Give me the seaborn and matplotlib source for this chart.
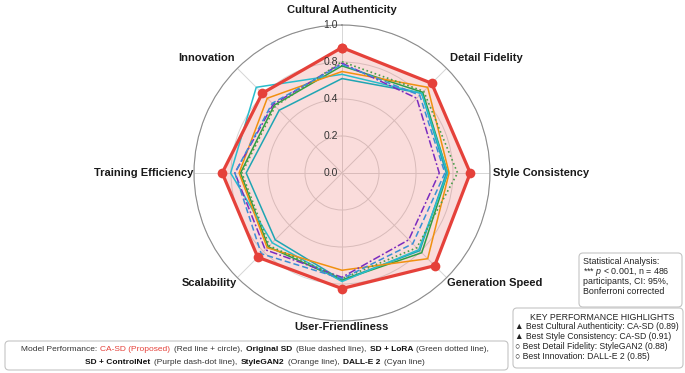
import numpy as np
import pandas as pd
import seaborn as sns
import matplotlib.pyplot as plt
from matplotlib.patches import FancyBboxPatch
from matplotlib.transforms import IdentityTransform


# Scores (clockwise from the top axis)
categories = ["Cultural Authenticity", "Detail Fidelity", "Style Consistency", "Generation Speed",
              "User-Friendliness", "Scalability", "Training Efficiency", "Innovation"]
ca_sd = [0.89, 0.90, 0.91, 0.93, 0.82, 0.845, 0.85, 0.80]
original_sd = [0.77, 0.78, 0.73, 0.71, 0.75, 0.81, 0.76, 0.70]
sd_lora = [0.79, 0.82, 0.82, 0.75, 0.75, 0.73, 0.71, 0.67]
sd_controlnet = [0.78, 0.75, 0.69, 0.67, 0.74, 0.77, 0.76, 0.69]
stylegan2 = [0.72, 0.86, 0.76, 0.86, 0.69, 0.75, 0.73, 0.75]
dalle2 = [0.70, 0.80, 0.75, 0.77, 0.77, 0.70, 0.79, 0.86]
extra_green = [0.76, 0.81, 0.75, 0.80, 0.76, 0.74, 0.72, 0.68]
extra_teal = [0.67, 0.80, 0.74, 0.78, 0.76, 0.67, 0.68, 0.63]

r_ticks = [0.0, 0.2625, 0.525, 0.7875, 1.05]
r_tick_labels = ["0.0", "0.2", "0.4", "0.8", "1.0"]

stats_lines = ["Statistical Analysis:", "*** $p$ < 0.001, n = 486", "participants, CI: 95%,",
               "Bonferroni corrected"]
highlight_title = "KEY PERFORMANCE HIGHLIGHTS"
highlight_lines = ["\u25B2 Best Cultural Authenticity: CA-SD (0.89)",
                   "\u25B2 Best Style Consistency: CA-SD (0.91)",
                   "\u25CB Best Detail Fidelity: StyleGAN2 (0.88)",
                   "\u25CB Best Innovation: DALL-E 2 (0.85)"]

RED = "#e5413a"
series = [
    ("Extra teal", extra_teal, "#1fa5b3", "-", 1.1),
    ("Extra green", extra_green, "#2e9e44", "-", 1.1),
    ("DALL-E 2", dalle2, "#29bccc", "-", 1.1),
    ("StyleGAN2", stylegan2, "#f0900f", "-", 1.1),
    ("SD + ControlNet", sd_controlnet, "#7b2cbf", (0, (5, 1.5, 1.2, 1.5)), 1.1),
    ("SD + LoRA", sd_lora, "#4a9e4a", (0, (1, 1.6)), 1.2),
    ("Original SD", original_sd, "#3a8fd6", (0, (4, 2)), 1.1),
]

# Long-format table, each loop closed on itself
n = len(categories)
angles = np.linspace(0, 2 * np.pi, n, endpoint=False)
rows = []
for name, vals in [("CA-SD", ca_sd)] + [(s[0], s[1]) for s in series]:
    for a, v in zip(list(angles) + [angles[0]], list(vals) + [vals[0]]):
        rows.append({"model": name, "angle": a, "score": v})
df = pd.DataFrame(rows)

sns.set_theme(style="white")
plt.rcParams['font.family'] = ['Liberation Sans', 'DejaVu Sans']
plt.rcParams['mathtext.fontset'] = 'custom'
plt.rcParams['mathtext.it'] = 'Liberation Sans:italic'
plt.rcParams['mathtext.rm'] = 'Liberation Sans'

W, H = 685, 373
fig = plt.figure(figsize=(6.85, 3.73), dpi=100)
ax = fig.add_axes([0.2832, 0.1394, 0.4321, 0.7936], polar=True)
ax.set_theta_offset(np.pi / 2)
ax.set_theta_direction(-1)

# Baselines
for name, vals, color, ls, lw in series:
    sns.lineplot(data=df[df.model == name], x="angle", y="score", sort=False, estimator=None,
                 color=color, linestyle=ls, linewidth=lw, ax=ax, zorder=3)

# Proposed model with fill
red = df[df.model == "CA-SD"]
ax.fill(red.angle, red.score, color=RED, alpha=0.18, lw=0, zorder=1)
sns.lineplot(data=red, x="angle", y="score", sort=False, estimator=None, color=RED,
             linewidth=2.3, marker="o", markersize=7, markeredgewidth=0, ax=ax, zorder=5)

ax.set_ylim(0, 1.05)
ax.set_yticks(r_ticks[1:])
ax.set_yticklabels([])
ax.set_xticks(angles)
ax.set_xticklabels([])
ax.set_xlabel("")
ax.set_ylabel("")
ax.grid(True, color="#d6d6d6", lw=0.7)
ax.spines["polar"].set_color("#8c8c8c")
ax.spines["polar"].set_linewidth(0.8)

# Radial labels just left of the vertical spoke
for r, lab in zip(r_ticks, r_tick_labels):
    ax.annotate(lab, xy=(0, r), xytext=(-4, 0), textcoords="offset pixels",
                ha="right", va="center", fontsize=7.5, color="#333333", zorder=6)

# Category labels
label_place = [("center", 0, 15), ("left", 3, 10), ("left", 3, 0), ("left", 0, -5),
               ("center", 0, -6), ("right", 0, -5), ("right", -1, 0), ("right", -2, 10)]
for a, cat, (ha, dx, dy) in zip(angles, categories, label_place):
    ax.annotate(cat, xy=(a, 1.05), xytext=(dx, dy), textcoords="offset pixels",
                ha=ha, va="center", fontsize=8, fontweight="bold", color="#1a1a1a",
                annotation_clip=False)


def px_box(x0, y0, x1, y1):
    # rounded frame given in pixel coords measured from the top-left
    box = FancyBboxPatch((x0, H - y1), x1 - x0, y1 - y0, boxstyle="round,pad=0,rounding_size=4",
                         transform=IdentityTransform(), ec="#c4c4c4", fc="white", lw=0.8)
    fig.add_artist(box)


def px_text(x, y, s, **kw):
    return fig.text(x / W, 1 - y / H, s, va="baseline", **kw)


# Bottom legend with mixed formatting, pieces laid out one after another
px_box(5, 341, 508, 370)
fs = 6.05
norm = dict(fontsize=fs, color="#333333")
bold = dict(fontsize=fs, color="#111111", fontweight="bold")
redp = dict(fontsize=fs, color=RED)
line1 = [("Model Performance:", norm), ("CA-SD (Proposed)", redp), ("(Red line + circle),", norm),
         ("Original SD", bold), ("(Blue dashed line),", norm), ("SD + LoRA", bold),
         ("(Green dotted line),", norm)]
line2 = [("SD + ControlNet", bold), ("(Purple dash-dot line),", norm), ("StyleGAN2", bold),
         ("(Orange line),", norm), ("DALL-E 2", bold), ("(Cyan line)", norm)]
renderer = fig.canvas.get_renderer()
space = fs * 0.42 * 100 / 72
for ln, base_y in ((line1, 351), (line2, 364.5)):
    texts = [px_text(0, base_y, t, ha="left", **p) for t, p in ln]
    widths = [t.get_window_extent(renderer).width for t in texts]
    total = sum(widths) + space * (len(widths) - 1)
    x = 255 - total / 2
    for t, w in zip(texts, widths):
        t.set_x(x / W)
        x += w + space

# Statistics box
px_box(579, 253, 682, 307)
for i, s in enumerate(stats_lines):
    px_text(583, 263.5 + 10.1 * i, s, ha="left", fontsize=6.4, color="#222222")

# Highlights box
px_box(513, 308, 683, 368)
px_text(602, 319.5, highlight_title, ha="center", fontsize=6.3, color="#222222")
for i, s in enumerate(highlight_lines):
    px_text(515, 329 + 10 * i, s, ha="left", fontsize=6.2, color="#222222")

fig.savefig("out.png", dpi=100)
